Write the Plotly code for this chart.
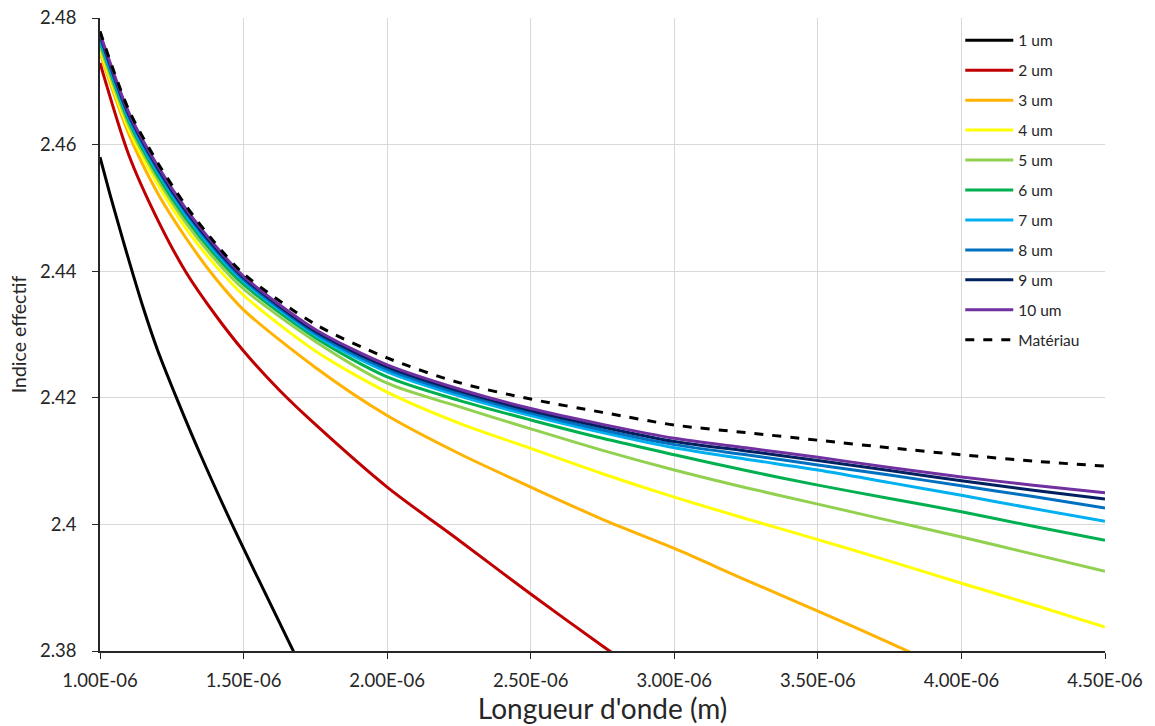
import plotly.graph_objects as go

# wavelengths (m) common grid for the upper curves
lam = [1.0e-6, 1.1e-6, 1.2e-6, 1.3e-6, 1.4e-6, 1.5e-6, 1.75e-6, 2.0e-6, 2.25e-6, 2.5e-6,
       2.75e-6, 3.0e-6, 3.25e-6, 3.5e-6, 3.75e-6, 4.0e-6, 4.25e-6, 4.5e-6]

lam_1um = [1.0e-6, 1.035e-6, 1.08e-6, 1.115e-6, 1.15e-6, 1.2e-6, 1.27e-6, 1.35e-6, 1.46e-6,
           1.55e-6, 1.67e-6, 1.70e-6]
n_1um = [2.4580, 2.4521, 2.4449, 2.4395, 2.4343, 2.4276, 2.4196, 2.4110, 2.4000,
         2.3915, 2.3803, 2.3775]

lam_2um = [1.0e-6, 1.1e-6, 1.2e-6, 1.3e-6, 1.4e-6, 1.5e-6, 1.625e-6, 1.75e-6, 2.0e-6,
           2.25e-6, 2.5e-6, 2.75e-6, 2.80e-6]
n_2um = [2.4729, 2.4584, 2.4482, 2.4398, 2.4332, 2.4274, 2.4212, 2.4158, 2.4059,
         2.3975, 2.3890, 2.3808, 2.3792]

lam_3um = [1.0e-6, 1.1e-6, 1.2e-6, 1.3e-6, 1.4e-6, 1.5e-6, 1.75e-6, 2.0e-6, 2.25e-6,
           2.5e-6, 2.75e-6, 3.0e-6, 3.25e-6, 3.5e-6, 3.75e-6, 3.85e-6]
n_3um = [2.4745, 2.4617, 2.4524, 2.4452, 2.4390, 2.4339, 2.4248, 2.4172, 2.4112,
         2.4059, 2.4008, 2.3962, 2.3912, 2.3863, 2.3813, 2.3792]

n_4um = [2.4750, 2.4624, 2.4538, 2.4467, 2.4410, 2.4362, 2.4274, 2.4209, 2.4160, 2.4120,
         2.4080, 2.4043, 2.4009, 2.3976, 2.3942, 2.3907, 2.3873, 2.3838]
n_5um = [2.4756, 2.4631, 2.4546, 2.4476, 2.4419, 2.4372, 2.4289, 2.4223, 2.4186, 2.4151,
         2.4117, 2.4086, 2.4058, 2.4032, 2.4006, 2.3980, 2.3953, 2.3926]
n_6um = [2.4762, 2.4637, 2.4552, 2.4483, 2.4426, 2.4379, 2.4295, 2.4233, 2.4196, 2.4165,
         2.4136, 2.4110, 2.4085, 2.4062, 2.4041, 2.4020, 2.3997, 2.3975]
n_7um = [2.4766, 2.4641, 2.4557, 2.4488, 2.4431, 2.4384, 2.4299, 2.4241, 2.4203, 2.4172,
         2.4145, 2.4121, 2.4103, 2.4086, 2.4066, 2.4046, 2.4025, 2.4005]
n_8um = [2.4770, 2.4645, 2.4561, 2.4492, 2.4435, 2.4387, 2.4302, 2.4245, 2.4207, 2.4176,
         2.4149, 2.4126, 2.4110, 2.4094, 2.4078, 2.4061, 2.4044, 2.4026]
n_9um = [2.4773, 2.4648, 2.4564, 2.4495, 2.4438, 2.4390, 2.4305, 2.4249, 2.4211, 2.4180,
         2.4154, 2.4131, 2.4116, 2.4101, 2.4085, 2.4069, 2.4054, 2.4040]
n_10um = [2.4776, 2.4651, 2.4567, 2.4498, 2.4441, 2.4392, 2.4308, 2.4252, 2.4214, 2.4183,
          2.4158, 2.4136, 2.4121, 2.4106, 2.4090, 2.4075, 2.4062, 2.4050]
n_mat = [2.4779, 2.4655, 2.4572, 2.4503, 2.4445, 2.4396, 2.4316, 2.4263, 2.4224, 2.4198,
         2.4177, 2.4157, 2.4145, 2.4133, 2.4121, 2.4110, 2.4100, 2.4092]

names = ["1 um", "2 um", "3 um", "4 um", "5 um", "6 um", "7 um", "8 um", "9 um", "10 um", "Matériau"]
colors = ["#000000", "#C00000", "#FFB300", "#FFFF00", "#92D050", "#00B050",
          "#00B0F0", "#0070C0", "#002060", "#7030A0", "#000000"]

x_tickvals = [1.0e-6, 1.5e-6, 2.0e-6, 2.5e-6, 3.0e-6, 3.5e-6, 4.0e-6, 4.5e-6]
x_ticktext = ["1.00E-06", "1.50E-06", "2.00E-06", "2.50E-06", "3.00E-06", "3.50E-06",
              "4.00E-06", "4.50E-06"]
y_tickvals = [2.38, 2.40, 2.42, 2.44, 2.46, 2.48]
y_ticktext = ["2.38", "2.4", "2.42", "2.44", "2.46", "2.48"]

series = [(lam_1um, n_1um), (lam_2um, n_2um), (lam_3um, n_3um), (lam, n_4um), (lam, n_5um),
          (lam, n_6um), (lam, n_7um), (lam, n_8um), (lam, n_9um), (lam, n_10um), (lam, n_mat)]

fig = go.Figure()
for i, ((xs, ys), name, col) in enumerate(zip(series, names, colors)):
    fig.add_trace(go.Scatter(
        x=xs, y=ys, name=name, mode="lines",
        line=dict(color=col, width=3, shape="spline", smoothing=0.8,
                  dash="dash" if name == "Matériau" else "solid"),
        legendgroup=name,
    ))

font_family = "Lato, 'Open Sans', sans-serif"
fig.update_layout(
    width=1155, height=726,
    margin=dict(l=100, r=50, t=18, b=75),
    paper_bgcolor="white", plot_bgcolor="white",
    font=dict(family=font_family, color="#404040"),
    showlegend=True,
    legend=dict(x=0.856, y=0.991, xanchor="left", yanchor="top",
                bgcolor="rgba(255,255,255,0)", font=dict(size=15.5, color="#262626"),
                tracegroupgap=6.8, itemwidth=48),
)
fig.update_xaxes(
    range=[1.0e-6, 4.5e-6], tickvals=x_tickvals, ticktext=x_ticktext,
    showgrid=True, gridcolor="#d9d9d9", gridwidth=1,
    showline=True, linecolor="#262626", linewidth=1.5,
    ticks="outside", ticklen=6, tickcolor="#262626",
    tickfont=dict(size=18.5, color="#262626"), ticklabelstandoff=6,
    title=dict(text="Longueur d'onde (m)", font=dict(size=28, color="#262626"), standoff=6),
    zeroline=False, automargin=False,
)
fig.update_yaxes(
    range=[2.38, 2.48], tickvals=y_tickvals, ticktext=y_ticktext,
    showgrid=True, gridcolor="#d9d9d9", gridwidth=1,
    showline=True, linecolor="#262626", linewidth=1.5,
    ticks="outside", ticklen=6, tickcolor="#262626",
    tickfont=dict(size=18.5, color="#262626"), ticklabelstandoff=12,
    title=dict(text="Indice effectif", font=dict(size=19.5, color="#262626"), standoff=8),
    zeroline=False, automargin=False,
)
fig.write_html("out.html")
